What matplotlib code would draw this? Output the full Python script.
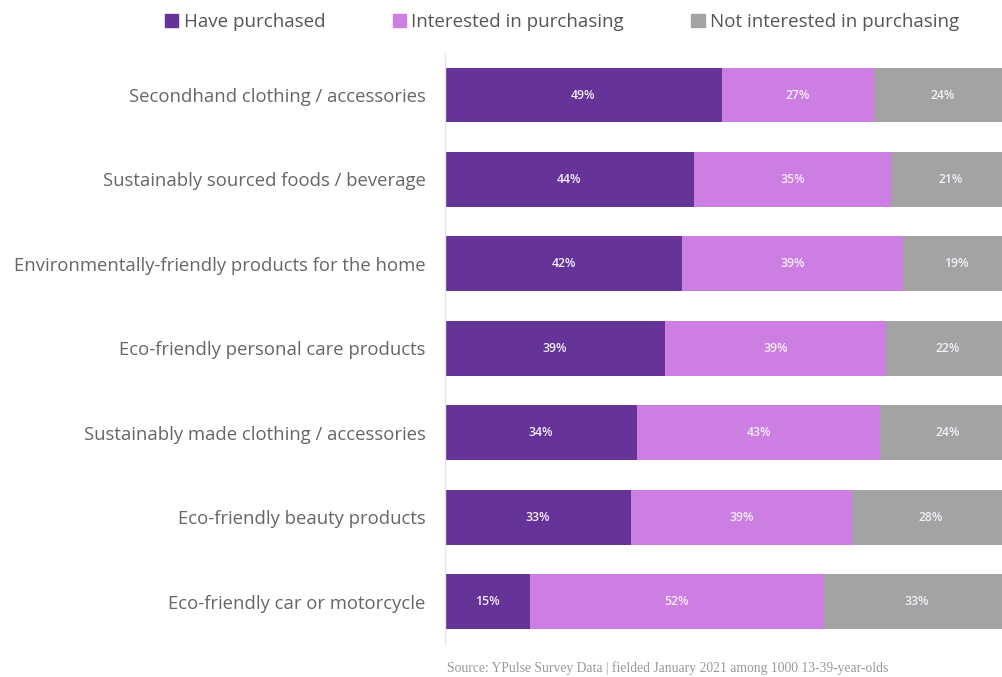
import matplotlib.pyplot as plt
from matplotlib.patches import Patch

categories = [
    "Secondhand clothing / accessories",
    "Sustainably sourced foods / beverage",
    "Environmentally-friendly products for the home",
    "Eco-friendly personal care products",
    "Sustainably made clothing / accessories",
    "Eco-friendly beauty products",
    "Eco-friendly car or motorcycle",
]
have = [49, 44, 42, 39, 34, 33, 15]
interested = [27, 35, 39, 39, 43, 39, 52]
not_interested = [24, 21, 19, 22, 24, 28, 33]
series_names = ["Have purchased", "Interested in purchasing", "Not interested in purchasing"]

colors = ["#663399", "#cc7ee3", "#a3a3a3"]
font = ["Open Sans", "DejaVu Sans"]

fig = plt.figure(figsize=(10.02, 6.77), dpi=100)
ax = fig.add_axes([0.444, 0.049, 0.564, 0.873])

y = list(range(len(categories)))[::-1]
left = [0] * len(categories)
for vals, col, name in zip([have, interested, not_interested], colors, series_names):
    bars = ax.barh(y, vals, left=left, height=0.65, color=col, label=name)
    for b, v in zip(bars, vals):
        ax.text(b.get_x() + b.get_width() / 2, b.get_y() + b.get_height() / 2,
                f"{v}%", ha="center", va="center", color="#f4eef8",
                fontsize=8.8, family=font, weight="semibold")
    left = [l + v for l, v in zip(left, vals)]

ax.set_xlim(0, 100)
ax.set_ylim(-0.5, 6.5)
ax.set_yticks(y)
ax.set_yticklabels(categories, fontsize=13.3, color="#666666", family=font)
ax.tick_params(axis="y", length=0, pad=14)
ax.set_xticks([])
for s in ["top", "right", "bottom"]:
    ax.spines[s].set_visible(False)
ax.spines["left"].set_color("#e6e6e6")
ax.spines["left"].set_linewidth(1)

handles = [Patch(color=c) for c in colors]
fig.legend(handles, series_names, loc="upper center", bbox_to_anchor=(0.561, 1.005),
           ncol=3, frameon=False, handlelength=0.7, handleheight=0.7,
           handletextpad=0.3, columnspacing=3.6,
           prop={"family": font, "size": 13.5}, labelcolor="#555555")

fig.text(0.446, 0.008, "Source: YPulse Survey Data | fielded January 2021 among 1000 13-39-year-olds",
         fontsize=9.8, color="#999999", family="Liberation Serif")

fig.savefig("out.png", dpi=100)
